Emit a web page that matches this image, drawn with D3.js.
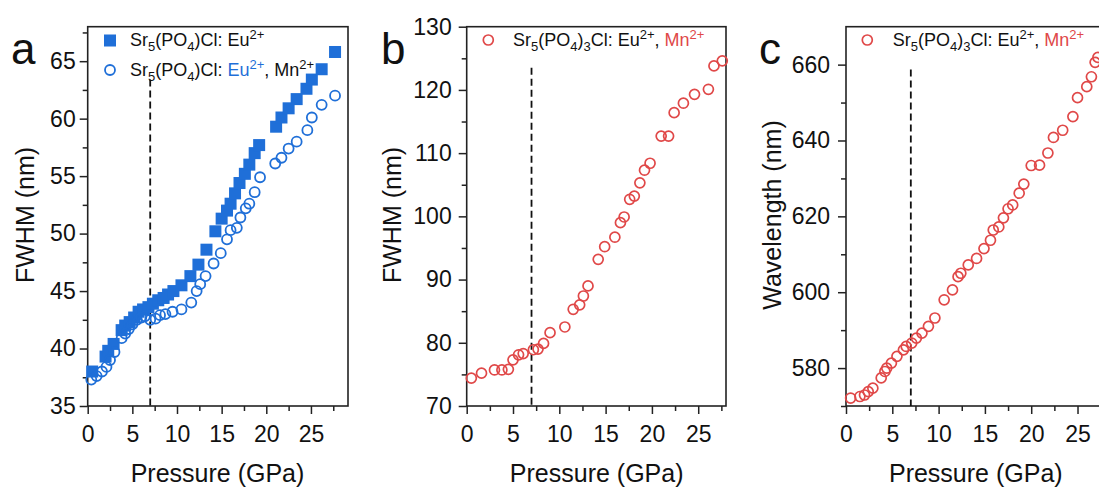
<!DOCTYPE html>
<html>
<head>
<meta charset="utf-8">
<script src="https://cdn.jsdelivr.net/npm/d3@7"></script>
<style>
  body { margin: 0; background: #fff; }
  text { font-family: "Liberation Sans", Arial, sans-serif; fill: #111; }
</style>
</head>
<body>
<svg id="chart" width="1099" height="488"></svg>
<script>
// panel a: Sr5(PO4)Cl: Eu2+ (filled squares)
let aEuP = [0.5, 2.0, 2.3, 2.9, 3.8, 4.2, 4.7, 5.2, 5.7, 6.2, 6.8, 7.3, 7.9, 8.5, 9.0, 9.6, 10.5, 11.5, 12.4, 13.3,
            14.3, 15.0, 15.6, 16.0, 16.5, 17.0, 17.6, 18.1, 18.7, 19.2, 21.1, 21.7, 22.5, 23.4, 24.5, 25.1, 26.2, 27.7];
let aEuF = [38.0, 39.3, 39.8, 40.4, 41.6, 42.0, 42.3, 42.7, 43.2, 43.4, 43.6, 43.9, 44.2, 44.4, 44.7, 45.0, 45.5, 46.3, 47.3, 48.6,
            50.2, 51.3, 52.0, 52.6, 53.5, 54.4, 55.2, 56.0, 57.0, 57.7, 59.3, 60.1, 60.9, 61.7, 62.6, 63.4, 64.3, 65.8];
// panel a: Sr5(PO4)Cl: Eu2+, Mn2+ (open circles)
let aMnP = [0.4, 1.0, 1.6, 2.1, 2.5, 3.0, 3.8, 4.2, 4.6, 5.0, 5.5, 6.0, 6.4, 7.0, 7.6, 8.1, 8.7, 9.5, 10.5, 11.6, 12.2,
            12.6, 13.2, 14.1, 14.9, 15.6, 16.0, 16.7, 17.1, 17.7, 18.1, 18.7, 19.3, 21.0, 21.7, 22.5, 23.4, 24.6, 25.1, 26.2, 27.7];
let aMnF = [37.3, 37.6, 38.0, 38.4, 39.0, 39.7, 40.9, 41.3, 41.7, 42.1, 42.5, 42.7, 42.8, 42.5, 42.6, 42.9, 43.0, 43.2, 43.4, 44.0, 45.0,
            45.6, 46.3, 47.4, 48.3, 49.5, 50.3, 50.5, 51.4, 52.2, 52.6, 53.6, 54.9, 56.1, 56.6, 57.4, 58.0, 59.0, 60.1, 61.2, 62.0];

// panel b: FWHM of Mn2+ band
let bP = [0.5, 1.6, 3.0, 3.8, 4.5, 5.0, 5.6, 6.1, 7.2, 7.7, 8.3, 9.0, 10.6, 11.5, 12.2, 12.6, 13.1, 14.2, 14.9, 16.0,
          16.6, 17.0, 17.6, 18.1, 18.7, 19.2, 19.8, 21.0, 21.8, 22.4, 23.4, 24.6, 26.1, 26.7, 27.6];
let bF = [74.4, 75.2, 75.7, 75.7, 75.8, 77.3, 78.1, 78.3, 78.9, 79.0, 79.9, 81.6, 82.5, 85.3, 86.0, 87.4, 89.0, 93.2, 95.2, 96.7,
          99.0, 99.9, 102.7, 103.2, 105.3, 107.3, 108.4, 112.7, 112.7, 116.4, 117.9, 119.3, 120.1, 123.8, 124.6];

// panel c: wavelength of Mn2+ band
let cP = [0.5, 1.5, 2.0, 2.4, 2.9, 3.8, 4.2, 4.4, 4.9, 5.5, 6.2, 6.5, 7.1, 7.6, 8.2, 8.9, 9.6, 10.6, 11.5, 12.1, 12.4,
          13.2, 14.1, 14.9, 15.6, 15.9, 16.5, 17.0, 17.5, 18.0, 18.7, 19.2, 20.0, 20.9, 21.8, 22.4, 23.4, 24.5, 25.0,
          26.0, 26.5, 26.9, 27.2];
let cW = [572.1, 572.5, 572.9, 573.8, 574.7, 577.4, 579.1, 580.0, 581.3, 583.1, 584.8, 585.7, 586.6, 587.9, 589.2, 591.0, 593.2, 598.0, 600.6, 604.1, 605.0,
          607.2, 608.9, 611.5, 613.7, 616.4, 617.2, 619.6, 622.0, 623.0, 626.1, 628.5, 633.4, 633.5, 636.7, 640.8, 642.7, 646.3, 651.3,
          654.2, 656.8, 660.6, 661.9];

let pressureTicks = [0, 5, 10, 15, 20, 25];
let pressureMinor = [2.5, 7.5, 12.5, 17.5, 22.5, 27.5];
let aTicks = [35, 40, 45, 50, 55, 60, 65];
let aMinor = [37.5, 42.5, 47.5, 52.5, 57.5, 62.5, 67.5];
let bTicks = [70, 80, 90, 100, 110, 120, 130];
let bMinor = [75, 85, 95, 105, 115, 125];
let cTicks = [580, 600, 620, 640, 660];
let cMinor = [570, 590, 610, 630, 650];

let blue = "#1f6fd8";
let red = "#e04848";
let svg = d3.select("#chart");
let plotTop = 26.7, plotBottom = 406;
let rad = 5, sq = 12;

function drawPanel(p) {
    let x = d3.scaleLinear().domain(p.xDomain).range([p.left, p.left + p.width]);
    let y = d3.scaleLinear().domain(p.yDomain).range([plotBottom, plotTop]);
    let g = svg.append("g");

    // axes with major and minor ticks
    let xAxis = d3.axisBottom(x).tickValues(pressureTicks).tickSize(8).tickPadding(12);
    let xMinor = d3.axisBottom(x).tickValues(pressureMinor.filter(v => v <= p.xDomain[1])).tickSize(5).tickFormat("");
    let yAxis = d3.axisLeft(y).tickValues(p.yTicks).tickSize(8).tickPadding(p.pad);
    let yMinor = d3.axisLeft(y).tickValues(p.yMinor).tickSize(5).tickFormat("");

    g.append("g").attr("transform", "translate(0," + plotBottom + ")").call(xMinor);
    g.append("g").attr("transform", "translate(0," + plotBottom + ")").call(xAxis);
    g.append("g").attr("transform", "translate(" + p.left + ",0)").call(yMinor);
    g.append("g").attr("transform", "translate(" + p.left + ",0)").call(yAxis);
    g.selectAll(".domain").remove();
    g.selectAll(".tick line").attr("stroke", "#222").attr("stroke-width", 1.5);
    g.selectAll(".tick text").attr("font-size", 23).attr("fill", "#111")
        .attr("font-family", "Liberation Sans, Arial, sans-serif");

    // frame
    g.append("rect")
        .attr("x", p.left).attr("y", plotTop)
        .attr("width", p.width).attr("height", plotBottom - plotTop)
        .attr("fill", "none").attr("stroke", "#222").attr("stroke-width", 1.6);

    // dashed line at 7 GPa
    g.append("line")
        .attr("x1", x(7)).attr("x2", x(7))
        .attr("y1", y(p.dashTop)).attr("y2", y(p.yDomain[0]))
        .attr("stroke", "#111").attr("stroke-width", 1.8)
        .attr("stroke-dasharray", "7,4");

    // titles
    g.append("text")
        .attr("x", p.titleX).attr("y", 482)
        .attr("text-anchor", "middle").attr("font-size", 25)
        .text("Pressure (GPa)");
    g.append("text")
        .attr("transform", "translate(" + p.yTitleX + ",215) rotate(-90)")
        .attr("text-anchor", "middle").attr("font-size", 25).attr("dy", "0.35em")
        .text(p.yTitle);
    g.append("text")
        .attr("x", p.letterX).attr("y", 64)
        .attr("font-size", 44)
        .text(p.letter);

    return {x: x, y: y, g: g};
}

// rich text with sub / superscripts
function richText(g, x, yBase, parts) {
    let t = g.append("text").attr("x", x).attr("y", yBase).attr("font-size", 18);
    let shift = 0;
    parts.forEach(part => {
        let target = part[1] === "sub" ? 5 : part[1] === "sup" ? -7 : 0;
        t.append("tspan")
            .attr("dy", target - shift)
            .attr("font-size", target === 0 ? 18 : 13)
            .attr("fill", part[2] || "#111")
            .text(part[0]);
        shift = target;
    });
}

// panel a
let pa = drawPanel({left: 87.7, width: 260.3, xDomain: [0, 29.15], yDomain: [35, 68],
    yTicks: aTicks, yMinor: aMinor, pad: 4, dashTop: 63.4,
    yTitle: "FWHM (nm)", yTitleX: 25, letter: "a", letterX: 11, titleX: 217.5});

pa.g.selectAll("rect.sq")
    .data(aEuP).enter()
    .append("rect").attr("class", "sq")
    .attr("x", (d, i) => pa.x(d) - sq / 2)
    .attr("y", (d, i) => pa.y(aEuF[i]) - sq / 2)
    .attr("width", sq).attr("height", sq)
    .attr("fill", blue);

pa.g.selectAll("circle.mn")
    .data(aMnP).enter()
    .append("circle").attr("class", "mn")
    .attr("cx", d => pa.x(d))
    .attr("cy", (d, i) => pa.y(aMnF[i]))
    .attr("r", rad)
    .attr("fill", "none").attr("stroke", blue).attr("stroke-width", 1.8);

// legend a
pa.g.append("rect").attr("x", 110 - sq / 2).attr("y", 40.5 - sq / 2).attr("width", sq).attr("height", sq).attr("fill", blue);
pa.g.append("circle").attr("cx", 110).attr("cy", 70).attr("r", rad)
    .attr("fill", "none").attr("stroke", blue).attr("stroke-width", 1.8);
richText(pa.g, 130, 46, [["Sr"], ["5", "sub"], ["(PO"], ["4", "sub"], [")Cl: Eu"], ["2+", "sup"]]);
richText(pa.g, 130, 76, [["Sr"], ["5", "sub"], ["(PO"], ["4", "sub"], [")Cl: "], ["Eu", null, blue], ["2+", "sup", blue],
    [", Mn"], ["2+", "sup"]]);

// panel b
let pb = drawPanel({left: 466.7, width: 259.3, xDomain: [0, 28], yDomain: [70, 130],
    yTicks: bTicks, yMinor: bMinor, pad: 7, dashTop: 123.5,
    yTitle: "FWHM (nm)", yTitleX: 392, letter: "b", letterX: 381, titleX: 596.7});

pb.g.selectAll("circle.pt")
    .data(bP).enter()
    .append("circle").attr("class", "pt")
    .attr("cx", d => pb.x(d))
    .attr("cy", (d, i) => pb.y(bF[i]))
    .attr("r", rad)
    .attr("fill", "none").attr("stroke", red).attr("stroke-width", 1.7);

pb.g.append("circle").attr("cx", 488.3).attr("cy", 40).attr("r", rad)
    .attr("fill", "none").attr("stroke", red).attr("stroke-width", 1.7);
richText(pb.g, 513, 46, [["Sr"], ["5", "sub"], ["(PO"], ["4", "sub"], [")"], ["3", "sub"], ["Cl: Eu"], ["2+", "sup"],
    [", "], ["Mn", null, red], ["2+", "sup", red]]);

// panel c
let pc = drawPanel({left: 846, width: 259.3, xDomain: [0, 28], yDomain: [570, 670],
    yTicks: cTicks, yMinor: cMinor, pad: 8, dashTop: 658.7,
    yTitle: "Wavelength (nm)", yTitleX: 772, letter: "c", letterX: 759, titleX: 975.8});

pc.g.selectAll("circle.pt")
    .data(cP).enter()
    .append("circle").attr("class", "pt")
    .attr("cx", d => pc.x(d))
    .attr("cy", (d, i) => pc.y(cW[i]))
    .attr("r", rad)
    .attr("fill", "none").attr("stroke", red).attr("stroke-width", 1.7);

pc.g.append("circle").attr("cx", 867.3).attr("cy", 40).attr("r", rad)
    .attr("fill", "none").attr("stroke", red).attr("stroke-width", 1.7);
richText(pc.g, 892.7, 46, [["Sr"], ["5", "sub"], ["(PO"], ["4", "sub"], [")"], ["3", "sub"], ["Cl: Eu"], ["2+", "sup"],
    [", "], ["Mn", null, red], ["2+", "sup", red]]);
</script>
</body>
</html>
